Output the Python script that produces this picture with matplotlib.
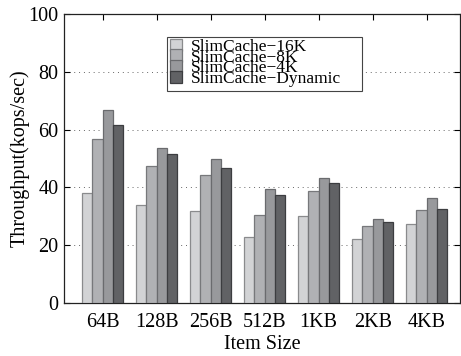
import numpy as np
import matplotlib
matplotlib.use("Agg")
import matplotlib.pyplot as plt
from matplotlib.patches import Rectangle

# Throughput per item size for each SlimCache configuration
sizes = ["64B", "128B", "256B", "512B", "1KB", "2KB", "4KB"]
series = ["SlimCache\u221216K", "SlimCache\u22128K", "SlimCache\u22124K", "SlimCache\u2212Dynamic"]
tp_16k = [37.9, 33.8, 32.0, 23.0, 30.1, 22.3, 27.2]
tp_8k = [56.6, 47.5, 44.2, 30.6, 38.6, 26.5, 32.2]
tp_4k = [66.7, 53.6, 49.8, 39.5, 43.4, 28.9, 36.2]
tp_dyn = [61.6, 51.4, 46.6, 37.3, 41.4, 28.0, 32.4]

fills = ["#d2d3d5", "#b0b1b4", "#98999c", "#616265"]
edges = ["#8a8b8d", "#77787b", "#6a6b6e", "#3c3d40"]

plt.rcParams["font.family"] = ["Liberation Serif", "DejaVu Serif"]

W, H = 461, 356
fig = plt.figure(figsize=(W / 100, H / 100), dpi=100)
ax = fig.add_axes([64 / W, 1 - 303 / H, 396 / W, 289 / H])

x = np.arange(len(sizes))
w = 0.19
for i, vals in enumerate([tp_16k, tp_8k, tp_4k, tp_dyn]):
    ax.bar(x + (i - 1.5) * w, vals, w, color=fills[i], edgecolor=edges[i],
           linewidth=0.9, label=series[i], zorder=3)

ax.set_xlim(-0.717, 6.617)
ax.set_ylim(0, 100)
ax.set_yticks(range(0, 101, 20))
ax.set_xticks(x)
ax.set_xticklabels(sizes)
ax.yaxis.grid(True, linestyle=(0, (1, 4)), color="#666666", linewidth=0.7, zorder=0)
ax.tick_params(direction="in", top=True, right=True, labelsize=14.5, length=4, width=0.8, pad=4)
ax.tick_params(axis="x", which="both", bottom=False, pad=7)
for s in ax.spines.values():
    s.set_linewidth(0.9)
    s.set_color("#222222")

ax.set_xlabel("Item Size", fontsize=14.5, labelpad=2.5)
ax.set_ylabel("Throughput(kops/sec)", fontsize=14.5, labelpad=-1)

# legend entries without frame, boxed by a separate rectangle
leg = ax.legend(loc="upper left", bbox_to_anchor=((167 - 64) / 396, (303 - 36) / 289),
                fontsize=12.5, frameon=False, borderpad=0.15, labelspacing=-0.31,
                handlelength=0.7, handleheight=0.7, handletextpad=0.5, borderaxespad=0)
leg.set_zorder(6)
frame = Rectangle(((167 - 64) / 396, (303 - 91) / 289), (362 - 167) / 396, 54 / 289,
                  transform=ax.transAxes, facecolor="white", edgecolor="#444444",
                  linewidth=0.8, zorder=5)
ax.add_patch(frame)

fig.savefig("out.png", dpi=100)
